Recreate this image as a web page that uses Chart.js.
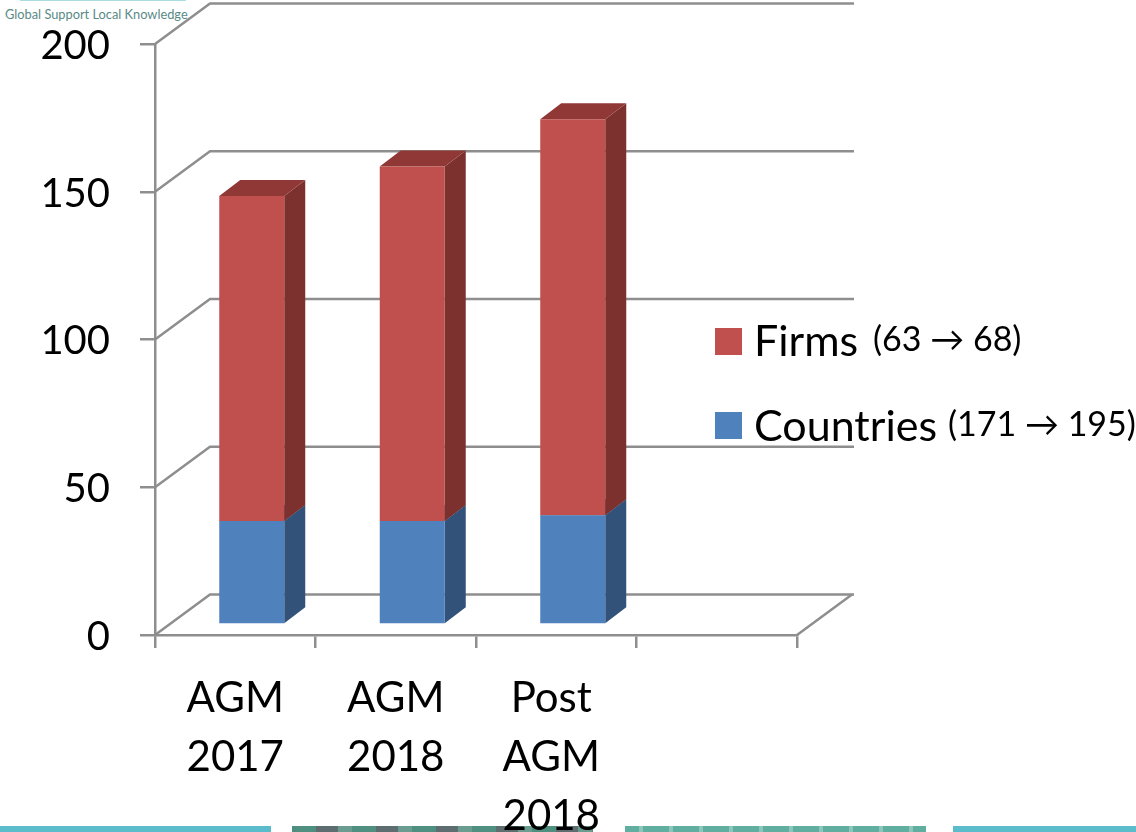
<!DOCTYPE html>
<html><head><meta charset="utf-8">
<style>
html,body{margin:0;padding:0;background:#fff;width:1136px;height:832px;overflow:hidden}
#wrap{position:relative;width:1136px;height:832px}
canvas{position:absolute;left:0;top:0}
.s{position:absolute;top:826px;height:6px}
#logo{position:absolute;left:5px;top:6px;font:12.8px Lato,sans-serif;color:#5a8a86;white-space:nowrap}
#logoLine{position:absolute;left:20px;top:0;width:166px;height:1px;background:#a9dde0}
</style></head>
<body><div id="wrap">
<div class="s" style="left:0;width:271px;background:#5bbccb"></div>
<div class="s" style="left:292px;width:301px;background:repeating-linear-gradient(90deg,#4f8f80 0 24px,#5e6d6f 24px 46px,#6a9c90 46px 60px)"></div>
<div class="s" style="left:625px;width:301px;background:repeating-linear-gradient(90deg,#5fae9f 0 14px,#8cc6ba 14px 18px,#5fae9f 18px 30px)"></div>
<div class="s" style="left:953px;width:183px;background:#5bbccb"></div>
<div id="logoLine"></div><div id="logo">Global Support Local Knowledge</div>
<canvas id="c" width="1136" height="832"></canvas>
</div>
<script src="https://cdn.jsdelivr.net/npm/chart.js@4/dist/chart.umd.min.js"></script>
<script>
const categories = [['AGM','2017'],['AGM','2018'],['Post','AGM','2018'],''];
const countries = [35, 35, 37, null];
const firms = [110, 120, 134, null];
const yTicks = [0, 50, 100, 150, 200];
const legendNotes = {Firms:'(63 → 68)', Countries:'(171 → 195)'};

const FONT = 'Lato, sans-serif';
const GRID = '#8e8e8e';
const FRONT = {Countries:'#4f81bd', Firms:'#c0504d'};
const SIDE = {Countries:'#32527a', Firms:'#7d312f'};
const TOP = {Countries:'#3a5f8e', Firms:'#8f3836'};
const back = {dx:55, dy:-40.5};
const shift = {dx:16.5, dy:-10.5};
const depth = {dx:21, dy:-16};

function poly(ctx, pts, fill){
  ctx.beginPath();
  pts.forEach((p,i)=> i?ctx.lineTo(p[0],p[1]):ctx.moveTo(p[0],p[1]));
  ctx.closePath(); ctx.fillStyle=fill; ctx.fill();
}
const plugin3d = {
  id:'plugin3d',
  beforeDraw(chart){
    const xs = chart.scales.x;
    const items = xs.getLabelItems(chart.chartArea);
    items.forEach((it,i)=>{ if(i===2 && !it.__moved){ it.options.translation[0]-=5; it.__moved=true; } });
  },
  beforeDatasetsDraw(chart){
    const {ctx, scales:{x,y}} = chart, a = chart.chartArea;
    ctx.save();
    ctx.strokeStyle=GRID; ctx.lineWidth=2.5;
    yTicks.forEach(v=>{
      const py=y.getPixelForValue(v);
      ctx.beginPath(); ctx.moveTo(a.left,py);
      ctx.lineTo(a.left+back.dx,py+back.dy);
      ctx.lineTo(a.right+back.dx+2,py+back.dy); ctx.stroke();
    });
    const b=y.getPixelForValue(0);
    ctx.beginPath(); ctx.moveTo(a.right,b); ctx.lineTo(a.right+back.dx,b+back.dy); ctx.stroke();
    ctx.restore();
    ctx.save();
    ctx.translate(shift.dx,shift.dy);
    chart.data.datasets.forEach((ds,di)=>{
      const els=chart.getDatasetMeta(di).data;
      els.forEach((el,i)=>{
        if(ds.data[i]==null) return;
        const p=el.getProps(['x','y','base','width'],true);
        const r=p.x+p.width/2, l=p.x-p.width/2;
        poly(ctx,[[r,p.base],[r+depth.dx,p.base+depth.dy],[r+depth.dx,p.y+depth.dy],[r,p.y]],SIDE[ds.label]);
        poly(ctx,[[l,p.y],[l+depth.dx,p.y+depth.dy],[r+depth.dx,p.y+depth.dy],[r,p.y]],TOP[ds.label]);
      });
    });
  },
  afterDatasetsDraw(chart){ chart.ctx.restore(); },
  afterDraw(chart){
    const ctx=chart.ctx;
    const rows=[['Firms',328,340],['Countries',412,425]];
    const noteX={Firms:873,Countries:948};
    ctx.save(); ctx.textBaseline='middle'; ctx.fillStyle='#000';
    rows.forEach(([n,by,ty],i)=>{
      ctx.fillStyle=FRONT[n]; ctx.fillRect(715,by,27,27);
      ctx.fillStyle='#000';
      ctx.font='43px '+FONT; ctx.fillText(n,754,ty+2);
      ctx.font='34px '+FONT; ctx.fillText(legendNotes[n],noteX[n],ty);
    });
    ctx.restore();
  }
};
new Chart(document.getElementById('c'),{
  type:'bar',
  data:{labels:categories,datasets:[
    {label:'Countries',data:countries,backgroundColor:FRONT.Countries,barPercentage:0.405,categoryPercentage:1,clip:false},
    {label:'Firms',data:firms,backgroundColor:FRONT.Firms,barPercentage:0.405,categoryPercentage:1,clip:false}
  ]},
  options:{
    responsive:false,animation:false,
    layout:{padding:{top:44,right:339,left:0,bottom:0}},
    plugins:{legend:{display:false},tooltip:{enabled:false}},
    scales:{
      x:{stacked:true,
        afterFit(s){s.height=197;},
        grid:{drawOnChartArea:false,tickLength:13,color:GRID,lineWidth:2.5,offset:true},
        border:{color:GRID,width:2.5},
        ticks:{autoSkip:false,maxRotation:0,minRotation:0,padding:21,color:'#000',font:{family:FONT,size:42,lineHeight:1.405}}
      },
      y:{stacked:true,min:0,max:200,
        afterFit(s){s.width=155;s.paddingTop=0;s.paddingBottom=0;},
        afterBuildTicks(s){s.ticks=yTicks.map(v=>({value:v}));},
        grid:{drawOnChartArea:false,tickLength:15,color:GRID,lineWidth:2.5},
        border:{color:GRID,width:2.5},
        ticks:{padding:30,labelOffset:2,color:'#000',font:{family:FONT,size:40}}
      }
    }
  },
  plugins:[plugin3d]
});
</script></body></html>
